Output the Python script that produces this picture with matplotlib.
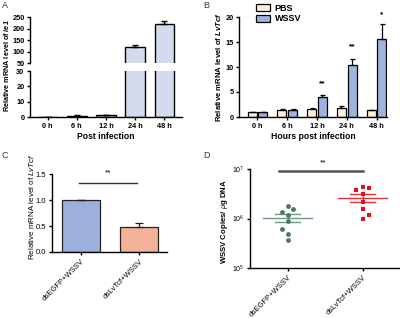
import numpy as np
import matplotlib
matplotlib.use("Agg")
from matplotlib import pyplot as plt
from matplotlib.patches import Patch

plt.rcParams['font.family'] = ['Liberation Sans', 'DejaVu Sans']
plt.rcParams['mathtext.fontset'] = 'custom'
plt.rcParams['mathtext.it'] = 'Liberation Sans:italic'
plt.rcParams['mathtext.bf'] = 'Liberation Sans:bold'
plt.rcParams['mathtext.bfit'] = 'Liberation Sans:italic:bold'

# panel A: ie1 expression
a_times = ["0 h", "6 h", "12 h", "24 h", "48 h"]
a_mean = [0.0, 0.8, 1.3, 118, 218]
a_err = [0.0, 0.3, 0.3, 12, 16]

# panel B: LvTcf expression, PBS vs WSSV
b_times = ["0 h", "6 h", "12 h", "24 h", "48 h"]
b_pbs = [1.0, 1.35, 1.65, 1.75, 1.4]
b_pbs_err = [0.05, 0.3, 0.25, 0.45, 0.1]
b_wssv = [1.0, 1.45, 4.1, 10.5, 15.6]
b_wssv_err = [0.05, 0.1, 0.35, 1.2, 3.0]
b_stars = ["", "", "**", "**", "*"]
b_star_y = [0, 0, 6.7, 14.1, 20.4]

# panel C: knockdown
c_groups = ["dsEGFP+WSSV", "dsLvTcf+WSSV"]
c_mean = [1.0, 0.48]
c_err = [0.0, 0.08]

# panel D: WSSV copies
d_groups = ["dsEGFP+WSSV", "dsLvTcf+WSSV"]
d_egfp = [1.78e6, 1.55e6, 1.38e6, 1.17e6, 0.87e6, 0.60e6, 0.49e6, 0.37e6]
d_egfp_dx = [0.01, 0.07, -0.07, 0.0, 0.0, -0.08, 0.01, 0.01]
d_lvtcf = [3.77e6, 4.39e6, 4.07e6, 3.09e6, 2.19e6, 1.55e6, 1.17e6, 1.00e6]
d_lvtcf_dx = [-0.09, 0.0, 0.08, 0.0, 0.0, 0.0, 0.08, 0.0]

W, H = 400, 318
fig = plt.figure(figsize=(4, 3.18), dpi=100)


def box(x0, y_top, x1, y_bot):
    return [x0 / W, 1 - y_bot / H, (x1 - x0) / W, (y_bot - y_top) / H]


def style(ax, bold=True, size=5.5):
    for s in ["top", "right"]:
        ax.spines[s].set_visible(False)
    for s in ["left", "bottom"]:
        ax.spines[s].set_linewidth(1.0)
    ax.tick_params(length=2.5, width=1.0, labelsize=size, pad=1.5)
    if bold:
        for lb in ax.get_xticklabels() + ax.get_yticklabels():
            lb.set_fontweight("bold")


# ---------- A ----------
a_col = "#d3dbee"
x = np.arange(len(a_times))
axu = fig.add_axes(box(30, 17, 182, 63))
axl = fig.add_axes(box(30, 71, 182, 117))
for ax in (axu, axl):
    ax.bar(x, a_mean, width=0.68, color=a_col, edgecolor="black", linewidth=1.0)
    ax.errorbar(x, a_mean, yerr=[np.zeros(5), a_err], fmt="none", ecolor="black",
                elinewidth=1.0, capsize=2.5, capthick=1.0)
    ax.set_xlim(-0.6, 4.6)
axu.set_ylim(50, 250)
axu.set_yticks([50, 100, 150, 200, 250])
axl.set_ylim(0, 30)
axl.set_yticks([0, 10, 20, 30])
axl.set_xticks(x, a_times)
axu.set_xticks([])
style(axu, size=5.3)
style(axl, size=5.3)
axu.spines["bottom"].set_visible(False)
axl.set_xlabel("Post infection", fontsize=6.2, fontweight="bold", labelpad=2)
fig.text(7 / W, 1 - 66 / H, r"Relative mRNA level of $\mathbfit{ie1}$", rotation=90,
         ha="center", va="center", fontsize=5.2, fontweight="bold")

# ---------- B ----------
axb = fig.add_axes(box(239, 17, 387, 117))
xb = np.arange(len(b_times))
pbs_col = "#fbeedd"
wssv_col = "#9fb3dd"
axb.bar(xb - 0.18, b_pbs, width=0.3, color=pbs_col, edgecolor="black", linewidth=0.9)
axb.bar(xb + 0.18, b_wssv, width=0.3, color=wssv_col, edgecolor="black", linewidth=0.9)
axb.errorbar(xb - 0.18, b_pbs, yerr=[np.zeros(5), b_pbs_err], fmt="none", ecolor="black",
             elinewidth=0.9, capsize=1.8, capthick=0.9)
axb.errorbar(xb + 0.18, b_wssv, yerr=[np.zeros(5), b_wssv_err], fmt="none", ecolor="black",
             elinewidth=0.9, capsize=1.8, capthick=0.9)
for i, s in enumerate(b_stars):
    if s:
        axb.text(xb[i] + 0.18, b_star_y[i], s, ha="center", va="center", fontsize=6,
                 fontweight="bold", clip_on=False)
axb.set_xlim(-0.62, 4.35)
axb.set_ylim(0, 20)
axb.set_yticks([0, 5, 10, 15, 20])
axb.set_xticks(xb, b_times)
style(axb, size=5.3)
axb.set_xlabel("Hours post infection", fontsize=6.2, fontweight="bold", labelpad=2)
fig.text(218 / W, 1 - 67 / H, r"Relative mRNA level of $\mathbfit{LvTcf}$", rotation=90,
         ha="center", va="center", fontsize=5.6, fontweight="bold")
handles = [Patch(facecolor=pbs_col, edgecolor="black", linewidth=0.9, label="PBS"),
           Patch(facecolor=wssv_col, edgecolor="black", linewidth=0.9, label="WSSV")]
fig.legend(handles=handles, loc="upper left", bbox_to_anchor=(252 / W, 1 - 0 / H),
           frameon=False, prop={"size": 6.5, "weight": "bold"}, handlelength=1.6,
           handleheight=0.9, labelspacing=0.2, handletextpad=0.5, borderaxespad=0)

# ---------- C ----------
axc = fig.add_axes(box(52, 174, 167, 252))
xc = np.arange(len(c_groups))
axc.bar(xc, c_mean, width=0.66, color=["#9db0dc", "#f3b39b"], edgecolor="#222222",
        linewidth=0.9)
axc.errorbar(xc, c_mean, yerr=[np.zeros(2), c_err], fmt="none", ecolor="#222222",
             elinewidth=0.9, capsize=3, capthick=0.9)
axc.set_xlim(-0.5, 1.48)
axc.set_ylim(0, 1.5)
axc.set_yticks([0, 0.5, 1.0, 1.5], ["0.0", "0.5", "1.0", "1.5"])
axc.set_xticks(xc, c_groups, rotation=45, ha="right", rotation_mode="anchor")
style(axc, bold=False, size=5.5)
axc.plot([-0.03, 0.97], [1.33, 1.33], color="#333333", lw=1.0, clip_on=False)
axc.text(0.47, 1.52, "**", ha="center", va="center", fontsize=6, clip_on=False)
fig.text(31 / W, 1 - 207 / H, r"Relative mRNA level of $\mathit{LvTcf}$", rotation=90,
         ha="center", va="center", fontsize=5.8)

# ---------- D ----------
axd = fig.add_axes(box(250, 169, 400, 268))
axd.set_yscale("log")
axd.set_ylim(1e5, 1e7)
axd.set_xlim(-0.5, 1.5)
for i, (vals, dx, col, mk, lcol) in enumerate([
        (d_egfp, d_egfp_dx, "#4f7a5e", "o", "#6f9c7e"),
        (d_lvtcf, d_lvtcf_dx, "#e0101e", "s", "#e8303a")]):
    v = np.array(vals)
    m = v.mean()
    sem = v.std(ddof=1) / np.sqrt(len(v))
    axd.plot(i + np.array(dx), v, mk, color=col, ms=3.5, mew=0, zorder=3)
    axd.plot([i - 0.33, i + 0.33], [m, m], color=lcol, lw=1.0, zorder=2)
    axd.plot([i - 0.17, i + 0.17], [m + sem, m + sem], color=lcol, lw=1.0, zorder=2)
    axd.plot([i - 0.17, i + 0.17], [m - sem, m - sem], color=lcol, lw=1.0, zorder=2)
    axd.plot([i, i], [m - sem, m + sem], color=lcol, lw=1.0, zorder=2)
axd.set_yticks([1e5, 1e6, 1e7])
axd.minorticks_off()
axd.set_xticks([0, 1], d_groups, rotation=45, ha="right", rotation_mode="anchor")
style(axd, bold=False, size=5.5)
axd.tick_params(axis="y", labelsize=5)
axd.plot([-0.12, 1.0], [9.2e6, 9.2e6], color="#555555", lw=1.8, clip_on=False)
axd.text(0.47, 1.35e7, "**", ha="center", va="center", fontsize=6, clip_on=False)
fig.text(225 / W, 1 - 222 / H, r"WSSV Copies/ $\mu$g DNA", rotation=90,
         ha="center", va="center", fontsize=5.6, fontweight="bold")

# panel letters
for lab, px, py in [("A", 2, 6), ("B", 203, 6), ("C", 2, 155), ("D", 203, 155)]:
    fig.text(px / W, 1 - py / H, lab, fontsize=6.5, color="#333333", va="center")

fig.savefig("out.png", dpi=100)
